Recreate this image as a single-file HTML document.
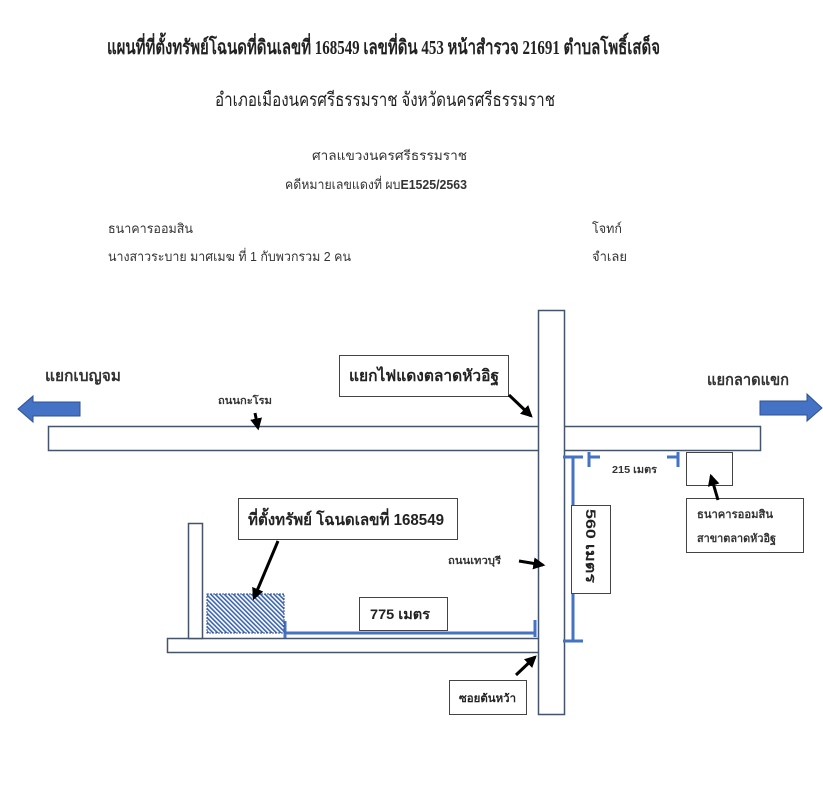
<!DOCTYPE html>
<html><head><meta charset="utf-8"><style>
html,body{margin:0;padding:0;background:#fff;}
svg{display:block;}
.ser{font-family:"Liberation Serif","Noto Serif CJK SC",serif;}
.san{font-family:"Liberation Sans","Noto Sans CJK SC",sans-serif;}
</style></head><body>
<svg width="823" height="800" viewBox="0 0 823 800" xmlns="http://www.w3.org/2000/svg">
<defs>
<pattern id="hatch" patternUnits="userSpaceOnUse" width="3.2" height="3.2" patternTransform="rotate(-45)">
<rect width="3.2" height="3.2" fill="#fff"/>
<rect width="1.6" height="3.2" fill="#3b64b0"/>
</pattern>
<marker id="ah" markerWidth="4" markerHeight="4" refX="3.2" refY="2" orient="auto" markerUnits="strokeWidth">
<path d="M0,0 L4,2 L0,4 z" fill="#000"/>
</marker>
</defs>

<!-- header -->
<text x="107" y="54" class="ser" font-size="20" font-weight="bold" fill="#222" textLength="553" lengthAdjust="spacingAndGlyphs">แผนที่ที่ตั้งทรัพย์โฉนดที่ดินเลขที่ 168549 เลขที่ดิน 453 หน้าสำรวจ 21691 ตำบลโพธิ์เสด็จ</text>
<text x="215" y="106" class="ser" font-size="19" fill="#222" textLength="340" lengthAdjust="spacingAndGlyphs">อำเภอเมืองนครศรีธรรมราช จังหวัดนครศรีธรรมราช</text>
<text x="312" y="160" class="san" font-size="13" fill="#333" textLength="155" lengthAdjust="spacingAndGlyphs">ศาลแขวงนครศรีธรรมราช</text>
<text x="285" y="189" class="san" font-size="13" fill="#333" textLength="182" lengthAdjust="spacingAndGlyphs">คดีหมายเลขแดงที่ ผบ<tspan font-weight="bold">E1525/2563</tspan></text>
<text x="108" y="233" class="san" font-size="13" fill="#333" textLength="85" lengthAdjust="spacingAndGlyphs">ธนาคารออมสิน</text>
<text x="592" y="233" class="san" font-size="13" fill="#333" textLength="30" lengthAdjust="spacingAndGlyphs">โจทก์</text>
<text x="108" y="261" class="san" font-size="13" fill="#333" textLength="243" lengthAdjust="spacingAndGlyphs">นางสาวระบาย มาศเมฆ ที่ 1 กับพวกรวม 2 คน</text>
<text x="592" y="261" class="san" font-size="13" fill="#333" textLength="35" lengthAdjust="spacingAndGlyphs">จำเลย</text>

<!-- roads -->
<rect x="48.5" y="426.5" width="712" height="24" fill="#fff" stroke="#44546a" stroke-width="1.5"/>
<rect x="167.5" y="638.5" width="372" height="14" fill="#fff" stroke="#44546a" stroke-width="1.5"/>
<rect x="188.5" y="523.5" width="14" height="115" fill="#fff" stroke="#44546a" stroke-width="1.5"/>
<rect x="538.5" y="310.5" width="26" height="404" fill="#fff" stroke="#44546a" stroke-width="1.5"/>

<!-- direction arrows -->
<path d="M80,402 L33,402 L33,396 L18,409 L33,422 L33,416 L80,416 Z" fill="#4472c4" stroke="#2f528f" stroke-width="1"/>
<path d="M760,401 L807,401 L807,394 L822,408 L807,421 L807,415 L760,415 Z" fill="#4472c4" stroke="#2f528f" stroke-width="1"/>

<text x="45" y="381" class="san" font-size="16" font-weight="bold" fill="#333" textLength="76" lengthAdjust="spacingAndGlyphs">แยกเบญจม</text>
<text x="707" y="385" class="san" font-size="16" font-weight="bold" fill="#333" textLength="82" lengthAdjust="spacingAndGlyphs">แยกลาดแขก</text>

<!-- intersection label -->
<rect x="339.5" y="355.5" width="169" height="41" fill="#fff" stroke="#444" stroke-width="1"/>
<text x="349" y="381" class="san" font-size="16" font-weight="bold" fill="#222" textLength="150" lengthAdjust="spacingAndGlyphs">แยกไฟแดงตลาดหัวอิฐ</text>
<line x1="509" y1="395" x2="531" y2="416" stroke="#000" stroke-width="3" marker-end="url(#ah)"/>

<text x="218" y="404" class="san" font-size="10" font-weight="bold" fill="#333" textLength="54" lengthAdjust="spacingAndGlyphs">ถนนกะโรม</text>
<line x1="255" y1="413" x2="258" y2="428" stroke="#000" stroke-width="3" marker-end="url(#ah)"/>

<!-- dimensions -->
<g stroke="#4472c4" stroke-width="3" fill="none">
<line x1="563" y1="457" x2="583" y2="457"/>
<line x1="573" y1="457" x2="573" y2="641"/>
<line x1="563" y1="641" x2="583" y2="641"/>
<line x1="589" y1="452" x2="589" y2="467"/>
<line x1="589" y1="457" x2="600" y2="457"/>
<line x1="678" y1="452" x2="678" y2="467"/>
<line x1="667" y1="457" x2="678" y2="457"/>
<line x1="285" y1="633" x2="536" y2="633"/>
<line x1="285" y1="621" x2="285" y2="638"/>
<line x1="535" y1="620" x2="535" y2="637"/>
</g>
<text x="612" y="473" class="san" font-size="10" font-weight="bold" fill="#333" textLength="45" lengthAdjust="spacingAndGlyphs">215 เมตร</text>

<!-- 560 box -->
<rect x="571.5" y="505.5" width="39" height="88" fill="#fff" stroke="#444" stroke-width="1"/>
<text x="0" y="0" class="san" font-size="14" font-weight="bold" fill="#222" transform="translate(586,509) rotate(90)" textLength="74" lengthAdjust="spacingAndGlyphs">560 เมตร</text>

<!-- bank -->
<rect x="686.5" y="452.5" width="46" height="33" fill="#fff" stroke="#444" stroke-width="1"/>
<rect x="686.5" y="498.5" width="117" height="54" fill="#fff" stroke="#444" stroke-width="1"/>
<text x="697" y="518" class="san" font-size="11" font-weight="bold" fill="#333" textLength="76" lengthAdjust="spacingAndGlyphs">ธนาคารออมสิน</text>
<text x="697" y="542" class="san" font-size="11" font-weight="bold" fill="#333" textLength="79" lengthAdjust="spacingAndGlyphs">สาขาตลาดหัวอิฐ</text>
<line x1="718" y1="500" x2="711" y2="476" stroke="#000" stroke-width="3" marker-end="url(#ah)"/>

<!-- parcel -->
<rect x="207" y="594" width="77" height="39" fill="url(#hatch)" stroke="#2f4f8f" stroke-width="1" stroke-dasharray="2,1"/>
<rect x="238.5" y="498.5" width="219" height="41" fill="#fff" stroke="#444" stroke-width="1"/>
<text x="248" y="525" class="san" font-size="16" font-weight="bold" fill="#222" textLength="196" lengthAdjust="spacingAndGlyphs">ที่ตั้งทรัพย์ โฉนดเลขที่ 168549</text>
<line x1="278" y1="541" x2="254" y2="598" stroke="#000" stroke-width="3" marker-end="url(#ah)"/>

<!-- 775 -->
<rect x="359.5" y="597.5" width="88" height="33" fill="#fff" stroke="#444" stroke-width="1"/>
<text x="370" y="619" class="san" font-size="14" font-weight="bold" fill="#222" textLength="60" lengthAdjust="spacingAndGlyphs">775 เมตร</text>

<!-- thanon thewaburi -->
<text x="448" y="564" class="san" font-size="10" font-weight="bold" fill="#333" textLength="53" lengthAdjust="spacingAndGlyphs">ถนนเทวบุรี</text>
<line x1="519" y1="561" x2="543" y2="565" stroke="#000" stroke-width="3" marker-end="url(#ah)"/>

<!-- soi -->
<rect x="449.5" y="680.5" width="77" height="34" fill="#fff" stroke="#444" stroke-width="1"/>
<text x="459" y="702" class="san" font-size="11" font-weight="bold" fill="#222" textLength="57" lengthAdjust="spacingAndGlyphs">ซอยต้นหว้า</text>
<line x1="516" y1="675" x2="535" y2="657" stroke="#000" stroke-width="3" marker-end="url(#ah)"/>
</svg>
</body></html>
